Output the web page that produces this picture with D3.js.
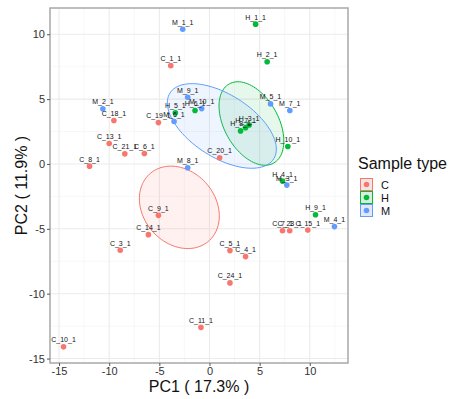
<!DOCTYPE html>
<html>
<head>
<meta charset="utf-8">
<script src="https://cdn.jsdelivr.net/npm/d3@7"></script>
<style>
  body { margin: 0; background: #fff; }
  text { font-family: "Liberation Sans", Arial, sans-serif; }
</style>
</head>
<body>
<svg id="chart"></svg>
<script>
// sample scores on the first two principal components
const sampleNames = [
  "C_1_1", "C_18_1", "C_19_1", "C_13_1", "C_21_1", "C_6_1", "C_8_1", "C_20_1", "C_9_1", "C_14_1",
  "C_3_1", "C_10_1", "C_5_1", "C_4_1", "C_24_1", "C_11_1", "C_7_1", "C_23_1", "C_15_1",
  "H_1_1", "H_2_1", "H_5_1", "H_6_1", "H_3_1", "H_7_1", "H_8_1", "H_10_1", "H_4_1", "H_9_1",
  "M_1_1", "M_2_1", "M_6_1", "M_9_1", "M_10_1", "M_8_1", "M_5_1", "M_7_1", "M_3_1", "M_4_1"
];
const pc1 = [
  -3.86, -9.53, -5.09, -10.0, -8.44, -6.49, -11.96, 1.01, -5.09, -6.09,
  -8.9, -14.55, 2.04, 3.6, 2.04, -0.85, 7.28, 8.0, 9.8,
  4.6, 5.75, -3.4, -1.44, 3.95, 3.6, 3.1, 7.81, 7.28, 10.57,
  -2.67, -10.63, -3.53, -2.17, -0.78, -2.17, 6.09, 8.01, 7.71, 12.46
];
const pc2 = [
  7.58, 3.35, 3.19, 1.58, 0.78, 0.81, -0.17, 0.48, -3.96, -5.45,
  -6.65, -14.1, -6.68, -7.14, -9.17, -12.6, -5.15, -5.15, -5.1,
  10.78, 7.88, 3.94, 4.12, 3.0, 2.8, 2.55, 1.35, -1.32, -3.91,
  10.38, 4.25, 3.27, 5.14, 4.27, -0.29, 4.63, 4.12, -1.63, -4.83
];
const sampleType = sampleNames.map(n => n[0]);

const groups = ["C", "H", "M"];
const groupColors = ["#F8766D", "#00BA38", "#619CFF"];
const xTicks = [-15, -10, -5, 0, 5, 10];
const yTicks = [-15, -10, -5, 0, 5, 10];
const xTitle = "PC1 ( 17.3% )";
const yTitle = "PC2 ( 11.9% )";
const legendTitle = "Sample type";
const ellipseLevel = 0.95;

const W = 470, H = 399;
const panel = { left: 50, right: 348, top: 8, bottom: 363 };

const svg = d3.select("#chart").attr("width", W).attr("height", H);

const points = sampleNames.map((name, i) => ({ name, x: pc1[i], y: pc2[i], g: sampleType[i] }));

// ggplot-like 5% expansion
function expand(ext) {
  const pad = (ext[1] - ext[0]) * 0.05;
  return [ext[0] - pad, ext[1] + pad];
}
const x = d3.scaleLinear().domain(expand(d3.extent(pc1))).range([panel.left, panel.right]);
const y = d3.scaleLinear().domain(expand(d3.extent(pc2))).range([panel.bottom, panel.top]);
const color = d3.scaleOrdinal().domain(groups).range(groupColors);

// panel background + grid
svg.append("rect")
  .attr("x", panel.left).attr("y", panel.top)
  .attr("width", panel.right - panel.left).attr("height", panel.bottom - panel.top)
  .attr("fill", "#fff");

const minorX = d3.range(-17.5, 15, 5).filter(v => x(v) > panel.left && x(v) < panel.right);
const minorY = d3.range(-17.5, 15, 5).filter(v => y(v) < panel.bottom && y(v) > panel.top);
const grid = svg.append("g");
grid.selectAll("line.mx").data(minorX).enter().append("line")
  .attr("x1", d => x(d)).attr("x2", d => x(d)).attr("y1", panel.top).attr("y2", panel.bottom)
  .attr("stroke", "#f2f2f2").attr("stroke-width", 0.6);
grid.selectAll("line.my").data(minorY).enter().append("line")
  .attr("y1", d => y(d)).attr("y2", d => y(d)).attr("x1", panel.left).attr("x2", panel.right)
  .attr("stroke", "#f2f2f2").attr("stroke-width", 0.6);
grid.selectAll("line.gx").data(xTicks).enter().append("line")
  .attr("x1", d => x(d)).attr("x2", d => x(d)).attr("y1", panel.top).attr("y2", panel.bottom)
  .attr("stroke", "#ebebeb").attr("stroke-width", 1.1);
grid.selectAll("line.gy").data(yTicks).enter().append("line")
  .attr("y1", d => y(d)).attr("y2", d => y(d)).attr("x1", panel.left).attr("x2", panel.right)
  .attr("stroke", "#ebebeb").attr("stroke-width", 1.1);

// confidence ellipses of group means
const chi2 = -2 * Math.log(1 - ellipseLevel);
function meanEllipse(pts) {
  const n = pts.length;
  const mx = d3.mean(pts, d => d.x), my = d3.mean(pts, d => d.y);
  let sxx = 0, syy = 0, sxy = 0;
  pts.forEach(d => {
    sxx += (d.x - mx) ** 2; syy += (d.y - my) ** 2; sxy += (d.x - mx) * (d.y - my);
  });
  sxx /= (n - 1) * n; syy /= (n - 1) * n; sxy /= (n - 1) * n;
  const tr = sxx + syy, det = sxx * syy - sxy * sxy;
  const l1 = tr / 2 + Math.sqrt(tr * tr / 4 - det), l2 = tr / 2 - Math.sqrt(tr * tr / 4 - det);
  const ang = Math.atan2(l1 - sxx, sxy);
  const a = Math.sqrt(chi2 * l1), b = Math.sqrt(chi2 * l2);
  return d3.range(0, 101).map(i => {
    const t = i / 100 * 2 * Math.PI;
    const ex = a * Math.cos(t), ey = b * Math.sin(t);
    return [mx + ex * Math.cos(ang) - ey * Math.sin(ang), my + ex * Math.sin(ang) + ey * Math.cos(ang)];
  });
}
const line = d3.line().x(d => x(d[0])).y(d => y(d[1]));
svg.append("g").selectAll("path")
  .data(groups).enter().append("path")
  .attr("d", g => line(meanEllipse(points.filter(p => p.g === g))))
  .attr("fill", g => color(g)).attr("fill-opacity", 0.1)
  .attr("stroke", g => color(g)).attr("stroke-width", 1);

// points
svg.append("g").selectAll("circle")
  .data(points).enter().append("circle")
  .attr("cx", d => x(d.x)).attr("cy", d => y(d.y)).attr("r", 2.8)
  .attr("fill", d => color(d.g));

// labels
svg.append("g").selectAll("text")
  .data(points).enter().append("text")
  .attr("x", d => x(d.x)).attr("y", d => y(d.y) - 4.5)
  .attr("text-anchor", "middle").attr("font-size", 7).attr("fill", "#111")
  .text(d => d.name);

// panel border
svg.append("rect")
  .attr("x", panel.left).attr("y", panel.top)
  .attr("width", panel.right - panel.left).attr("height", panel.bottom - panel.top)
  .attr("fill", "none").attr("stroke", "#a8a8a8").attr("stroke-width", 1.5);

// axes
const fmt = d => String(d);
const xAxis = svg.append("g").attr("transform", `translate(0,${panel.bottom})`)
  .call(d3.axisBottom(x).tickValues(xTicks).tickFormat(fmt).tickSize(3).tickPadding(1));
const yAxis = svg.append("g").attr("transform", `translate(${panel.left},0)`)
  .call(d3.axisLeft(y).tickValues(yTicks).tickFormat(fmt).tickSize(3).tickPadding(2));
[xAxis, yAxis].forEach(ax => {
  ax.select(".domain").remove();
  ax.selectAll(".tick line").attr("stroke", "#555");
  ax.selectAll(".tick text").attr("font-size", 11).attr("fill", "#333")
    .attr("font-family", "Liberation Sans, Arial, sans-serif");
});

svg.append("text")
  .attr("x", (panel.left + panel.right) / 2).attr("y", 392)
  .attr("text-anchor", "middle").attr("font-size", 16).attr("fill", "#111")
  .text(xTitle);
svg.append("text")
  .attr("transform", `translate(27,${(panel.top + panel.bottom) / 2}) rotate(-90)`)
  .attr("text-anchor", "middle").attr("font-size", 16).attr("fill", "#111")
  .text(yTitle);

// legend
const legend = svg.append("g").attr("transform", "translate(358,0)");
legend.append("text").attr("x", 0).attr("y", 169).attr("font-size", 16).attr("fill", "#111")
  .text(legendTitle);
const keys = legend.selectAll("g.key").data(groups).enter().append("g")
  .attr("transform", (d, i) => `translate(2,${178 + i * 13})`);
keys.append("rect").attr("x", 0.5).attr("y", 0.5).attr("width", 12).attr("height", 12)
  .attr("fill", "#f2f2f2");
keys.append("rect").attr("x", 0.5).attr("y", 0.5).attr("width", 12).attr("height", 12)
  .attr("fill", d => color(d)).attr("fill-opacity", 0.1)
  .attr("stroke", d => color(d)).attr("stroke-width", 1);
keys.append("circle").attr("cx", 6.5).attr("cy", 6.5).attr("r", 2.8).attr("fill", d => color(d));
keys.append("text").attr("x", 21).attr("y", 10.5).attr("font-size", 11).attr("fill", "#111")
  .text(d => d);
</script>
</body>
</html>
